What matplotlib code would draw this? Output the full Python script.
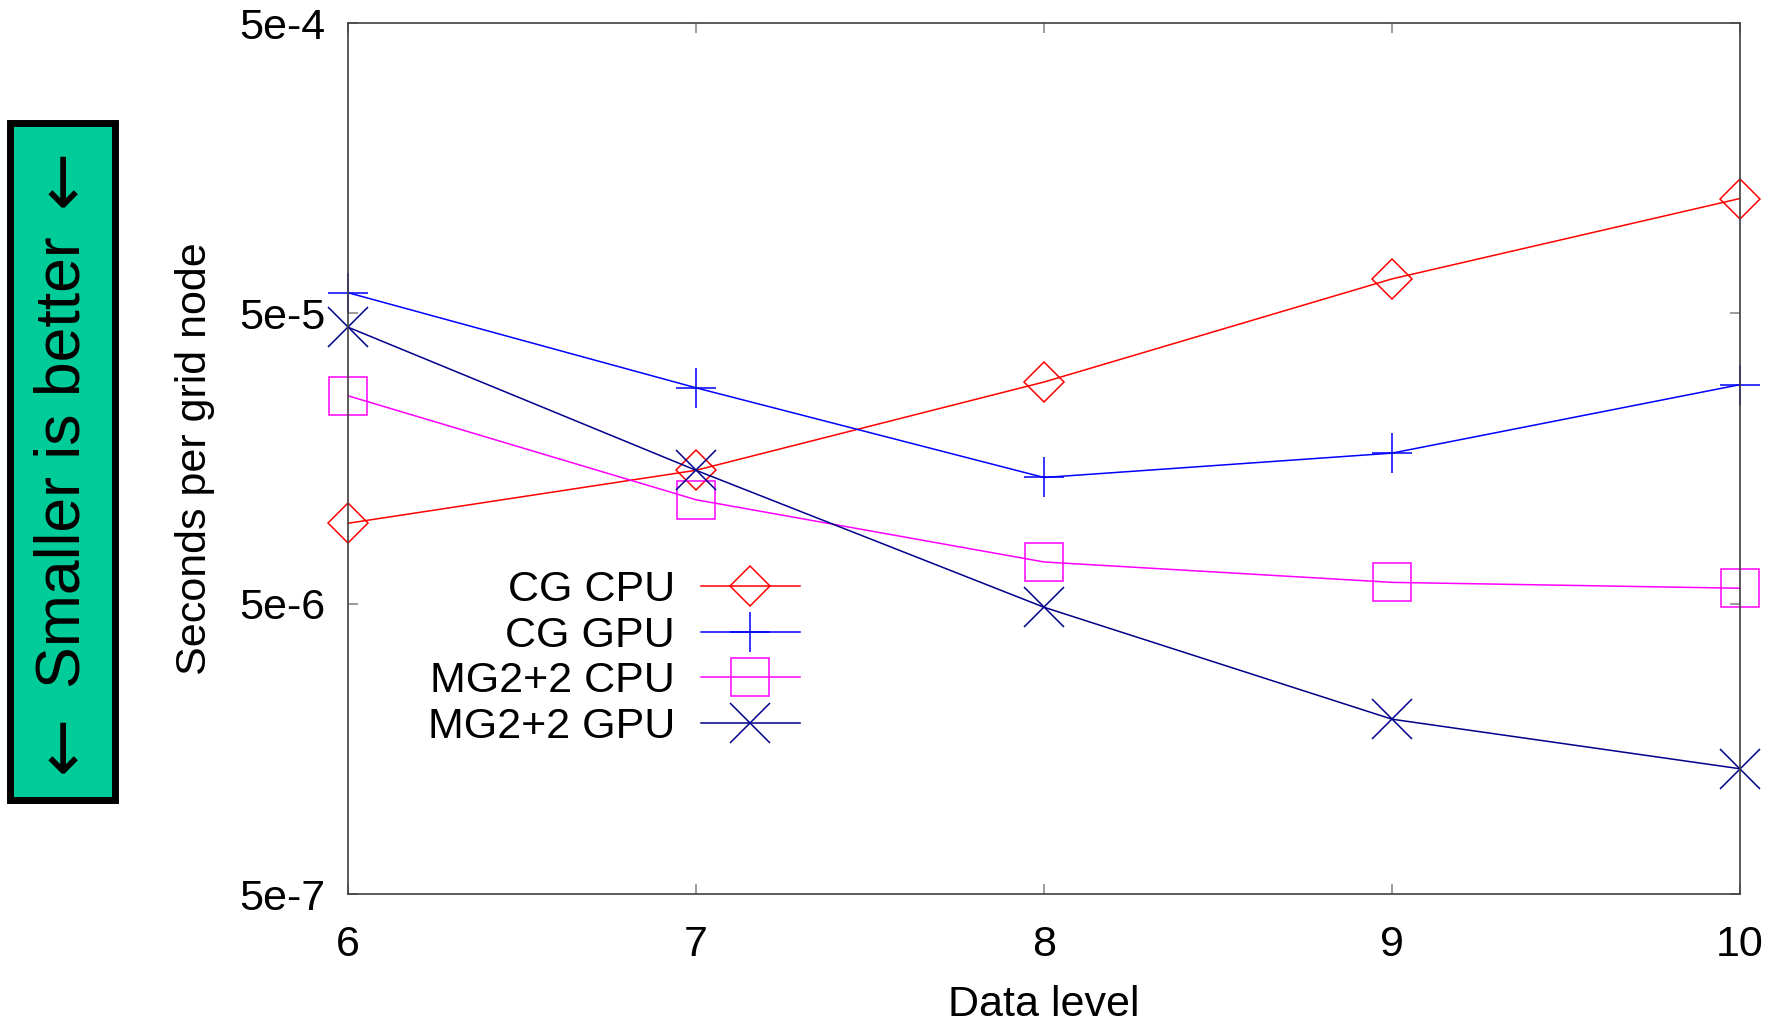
import matplotlib
matplotlib.use("Agg")
import matplotlib.pyplot as plt
from matplotlib.patches import Rectangle

plt.rcParams['font.family'] = ['Liberation Sans', 'DejaVu Sans']

levels = [6, 7, 8, 9, 10]
cg_cpu = [9.46e-6, 1.44e-5, 2.90e-5, 6.57e-5, 1.243e-4]
cg_gpu = [5.89e-5, 2.77e-5, 1.36e-5, 1.65e-5, 2.84e-5]
mg_cpu = [2.60e-5, 1.14e-5, 6.96e-6, 5.92e-6, 5.65e-6]
mg_gpu = [4.48e-5, 1.44e-5, 4.86e-6, 2.0e-6, 1.35e-6]

series_labels = ["CG CPU", "CG GPU", "MG2+2 CPU", "MG2+2 GPU"]
y_ticks = [5e-7, 5e-6, 5e-5, 5e-4]
y_tick_labels = ["5e-7", "5e-6", "5e-5", "5e-4"]

W, H = 1783, 1026
fig = plt.figure(figsize=(W / 100, H / 100), dpi=100)
ax = fig.add_axes([348 / W, 1 - 894 / H, (1740 - 348) / W, (894 - 23) / H])

lw = 1.1
ax.plot(levels, cg_cpu, color='red', lw=lw, marker='D', ms=20, mfc='none', mew=1.1,
        label=series_labels[0])
ax.plot(levels, cg_gpu, color='blue', lw=lw, marker='+', ms=29, mew=1.1,
        label=series_labels[1])
ax.plot(levels, mg_cpu, color='#ff00ff', lw=lw, marker='s', ms=28, mfc='none', mew=1.1,
        label=series_labels[2])
ax.plot(levels, mg_gpu, color='#00008b', lw=lw, marker='x', ms=29, mew=1.1,
        label=series_labels[3])

ax.set_yscale('log')
ax.set_xlim(6, 10)
ax.set_ylim(5e-7, 5e-4)
ax.set_yticks(y_ticks)
ax.set_yticklabels(y_tick_labels)
ax.minorticks_off()
ax.set_xticks(levels)
ax.set_xticklabels([str(l) for l in levels])

for s in ax.spines.values():
    s.set_color('#404040')
    s.set_linewidth(1.2)
ax.tick_params(direction='in', length=7, width=1.1, color='#808080',
               top=True, right=True, labelsize=31)
ax.tick_params(axis='y', pad=16)
ax.tick_params(axis='x', pad=22)

ax.set_xlabel("Data level", fontsize=31, labelpad=15)
ax.set_ylabel("Seconds per grid node", fontsize=31, labelpad=18)
for l in ax.lines:
    l.set_clip_on(False)

leg = ax.legend(loc='upper right', bbox_to_anchor=(800 / W, 1 - 570 / H),
                bbox_transform=fig.transFigure, frameon=False, markerfirst=False,
                fontsize=31, handlelength=2.3, handletextpad=0.6,
                labelspacing=0.13, borderpad=0, borderaxespad=0)

# side banner
fig.patches.append(Rectangle((10 / W, 1 - 800 / H), 105 / W, 677 / H,
                             transform=fig.transFigure, facecolor='#00cc99',
                             edgecolor='black', linewidth=5))
fig.text(63 / W, 1 - 462 / H, "Smaller is better", rotation=90,
         ha='center', va='center', fontsize=45)
for yy in (178, 744):
    fig.text(63 / W, 1 - yy / H, "\u2190", rotation=90, ha='center', va='center',
             fontsize=50, family='DejaVu Sans')

fig.savefig("out.png", dpi=100)
